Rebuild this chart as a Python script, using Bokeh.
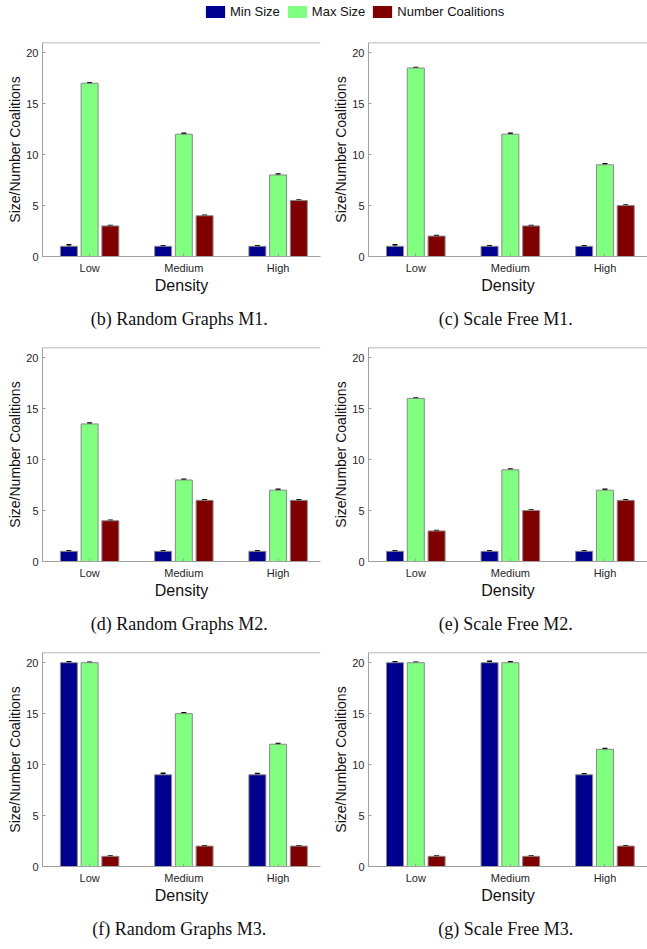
from bokeh.plotting import figure
from bokeh.models import (Range1d, FixedTicker, Whisker, ColumnDataSource, TeeHead,
                          Span, Legend, LegendItem)
from bokeh.layouts import column, gridplot
from bokeh.embed import file_html
from bokeh.resources import INLINE

# ---------------- data ----------------
densities = ["Low", "Medium", "High"]
y_ticks = [0, 5, 10, 15, 20]
series_names = ["Min Size", "Max Size", "Number Coalitions"]

captions = ["(b)  Random Graphs M1.", "(c)  Scale Free M1.",
            "(d)  Random Graphs M2.", "(e)  Scale Free M2.",
            "(f)  Random Graphs M3.", "(g)  Scale Free M3."]

# Random Graphs M1
rg_m1_min = [1.0, 1.0, 1.0]
rg_m1_max = [17.0, 12.0, 8.0]
rg_m1_num = [3.0, 4.0, 5.5]
rg_m1_min_err = [0.15, 0.05, 0.05]
rg_m1_max_err = [0.05, 0.1, 0.1]
rg_m1_num_err = [0.05, 0.05, 0.05]

# Scale Free M1
sf_m1_min = [1.0, 1.0, 1.0]
sf_m1_max = [18.5, 12.0, 9.0]
sf_m1_num = [2.0, 3.0, 5.0]
sf_m1_min_err = [0.15, 0.05, 0.05]
sf_m1_max_err = [0.05, 0.1, 0.1]
sf_m1_num_err = [0.05, 0.05, 0.05]

# Random Graphs M2
rg_m2_min = [1.0, 1.0, 1.0]
rg_m2_max = [13.5, 8.0, 7.0]
rg_m2_num = [4.0, 6.0, 6.0]
rg_m2_min_err = [0.05, 0.05, 0.05]
rg_m2_max_err = [0.08, 0.08, 0.1]
rg_m2_num_err = [0.05, 0.05, 0.05]

# Scale Free M2
sf_m2_min = [1.0, 1.0, 1.0]
sf_m2_max = [16.0, 9.0, 7.0]
sf_m2_num = [3.0, 5.0, 6.0]
sf_m2_min_err = [0.05, 0.05, 0.05]
sf_m2_max_err = [0.05, 0.08, 0.1]
sf_m2_num_err = [0.05, 0.05, 0.05]

# Random Graphs M3
rg_m3_min = [20.0, 9.0, 9.0]
rg_m3_max = [20.0, 15.0, 12.0]
rg_m3_num = [1.0, 2.0, 2.0]
rg_m3_min_err = [0.1, 0.15, 0.12]
rg_m3_max_err = [0.05, 0.08, 0.08]
rg_m3_num_err = [0.03, 0.03, 0.03]

# Scale Free M3
sf_m3_min = [20.0, 20.0, 9.0]
sf_m3_max = [20.0, 20.0, 11.5]
sf_m3_num = [1.0, 1.0, 2.0]
sf_m3_min_err = [0.1, 0.15, 0.1]
sf_m3_max_err = [0.05, 0.1, 0.08]
sf_m3_num_err = [0.03, 0.03, 0.03]

panels = [
    (rg_m1_min, rg_m1_max, rg_m1_num, rg_m1_min_err, rg_m1_max_err, rg_m1_num_err),
    (sf_m1_min, sf_m1_max, sf_m1_num, sf_m1_min_err, sf_m1_max_err, sf_m1_num_err),
    (rg_m2_min, rg_m2_max, rg_m2_num, rg_m2_min_err, rg_m2_max_err, rg_m2_num_err),
    (sf_m2_min, sf_m2_max, sf_m2_num, sf_m2_min_err, sf_m2_max_err, sf_m2_num_err),
    (rg_m3_min, rg_m3_max, rg_m3_num, rg_m3_min_err, rg_m3_max_err, rg_m3_num_err),
    (sf_m3_min, sf_m3_max, sf_m3_num, sf_m3_min_err, sf_m3_max_err, sf_m3_num_err),
]

# ---------------- style ----------------
colors = ["#00008F", "#80FF80", "#800000"]
offsets = [-0.22, 0.0, 0.22]
bar_w = 0.18
edge = "#8a8a8a"
axis_grey = "#a0a0a0"
sans = "Liberation Sans"
serif = "Liberation Serif"
xpos = [1, 2, 3]
Y_MAX = 21


def make_panel(data, caption, left_col):
    mins, maxs, nums, emin, emax, enum = data
    p = figure(width=330 if left_col else 317, height=305,
               x_range=Range1d(0.5, 3.45), y_range=Range1d(0, Y_MAX),
               output_backend="svg", toolbar_location=None,
               title=caption, title_location="below",
               min_border_left=42 if left_col else 37,
               min_border_right=10 if left_col else 0,
               min_border_top=9, min_border_bottom=82)
    p.title.align = "center"
    p.title.text_font = serif
    p.title.text_font_size = "18px"
    p.title.text_font_style = "normal"
    p.title.text_color = "#111111"
    p.title.standoff = 20

    for vals, errs, col, off in zip([mins, maxs, nums], [emin, emax, enum], colors, offsets):
        src = ColumnDataSource(dict(
            x=[xi + off for xi in xpos], top=vals,
            lo=[v - e for v, e in zip(vals, errs)],
            hi=[v + e for v, e in zip(vals, errs)]))
        p.vbar(x="x", top="top", bottom=0, width=bar_w, source=src,
               fill_color=col, line_color=edge, line_width=1)
        p.add_layout(Whisker(source=src, base="x", lower="lo", upper="hi",
                             line_color="black", line_width=1.5,
                             upper_head=TeeHead(size=5, line_color="black", line_width=1.5),
                             lower_head=TeeHead(size=5, line_color="black", line_width=1.5)))

    p.xgrid.visible = False
    p.ygrid.visible = False
    p.outline_line_color = None
    p.background_fill_color = "white"
    p.border_fill_color = "white"

    xa = p.xaxis[0]
    xa.ticker = FixedTicker(ticks=xpos)
    xa.major_label_overrides = {i + 1: d for i, d in enumerate(densities)}
    xa.axis_label = "Density"
    xa.axis_label_text_font = sans
    xa.axis_label_text_font_size = "16px"
    xa.axis_label_text_font_style = "normal"
    xa.axis_label_text_color = "#111111"
    xa.axis_label_standoff = 0
    xa.major_label_text_font = sans
    xa.major_label_text_font_size = "11px"
    xa.major_label_text_color = "#262626"
    xa.major_label_standoff = 5
    xa.major_tick_in = 3
    xa.major_tick_out = 0
    xa.minor_tick_line_color = None
    xa.axis_line_color = axis_grey
    xa.major_tick_line_color = axis_grey

    ya = p.yaxis[0]
    ya.ticker = FixedTicker(ticks=y_ticks)
    ya.axis_label = "Size/Number Coalitions"
    ya.axis_label_text_font = sans
    ya.axis_label_text_font_size = "14px"
    ya.axis_label_text_font_style = "normal"
    ya.axis_label_text_color = "#111111"
    ya.axis_label_standoff = 0
    ya.major_label_text_font = sans
    ya.major_label_text_font_size = "11px"
    ya.major_label_text_color = "#262626"
    ya.major_label_standoff = 4
    ya.major_tick_in = 3
    ya.major_tick_out = 0
    ya.minor_tick_line_color = None
    ya.axis_line_color = axis_grey
    ya.major_tick_line_color = axis_grey

    p.add_layout(Span(location=Y_MAX, dimension="width",
                      line_color=axis_grey, line_width=1.5))
    return p


figs = [make_panel(d, c, i % 2 == 0) for i, (d, c) in enumerate(zip(panels, captions))]

# legend strip
lg = figure(width=647, height=33, output_backend="svg", toolbar_location=None,
            x_range=Range1d(0, 1), y_range=Range1d(0, 1),
            min_border=0, outline_line_color=None)
lg.axis.visible = False
lg.grid.visible = False
items = []
for name, col in zip(series_names, colors):
    # zero-area swatch renderer: only its legend entry is visible
    r = lg.vbar(x=[0.5], top=[0], bottom=[0], width=0, fill_color=col, line_color=None)
    items.append(LegendItem(label=name, renderers=[r]))
legend = Legend(items=items, orientation="horizontal", location=(203, 14),
                border_line_color=None, background_fill_alpha=0,
                label_text_font=sans, label_text_font_size="13px",
                label_text_color="#111111", label_height=14,
                glyph_width=24, glyph_height=15, spacing=5, padding=0, margin=0,
                label_standoff=3)
lg.add_layout(legend, "center")

grid = gridplot([[figs[0], figs[1]], [figs[2], figs[3]], [figs[4], figs[5]]],
                toolbar_location=None)
layout = column(lg, grid)

open("out.html", "w").write(file_html(layout, INLINE))
